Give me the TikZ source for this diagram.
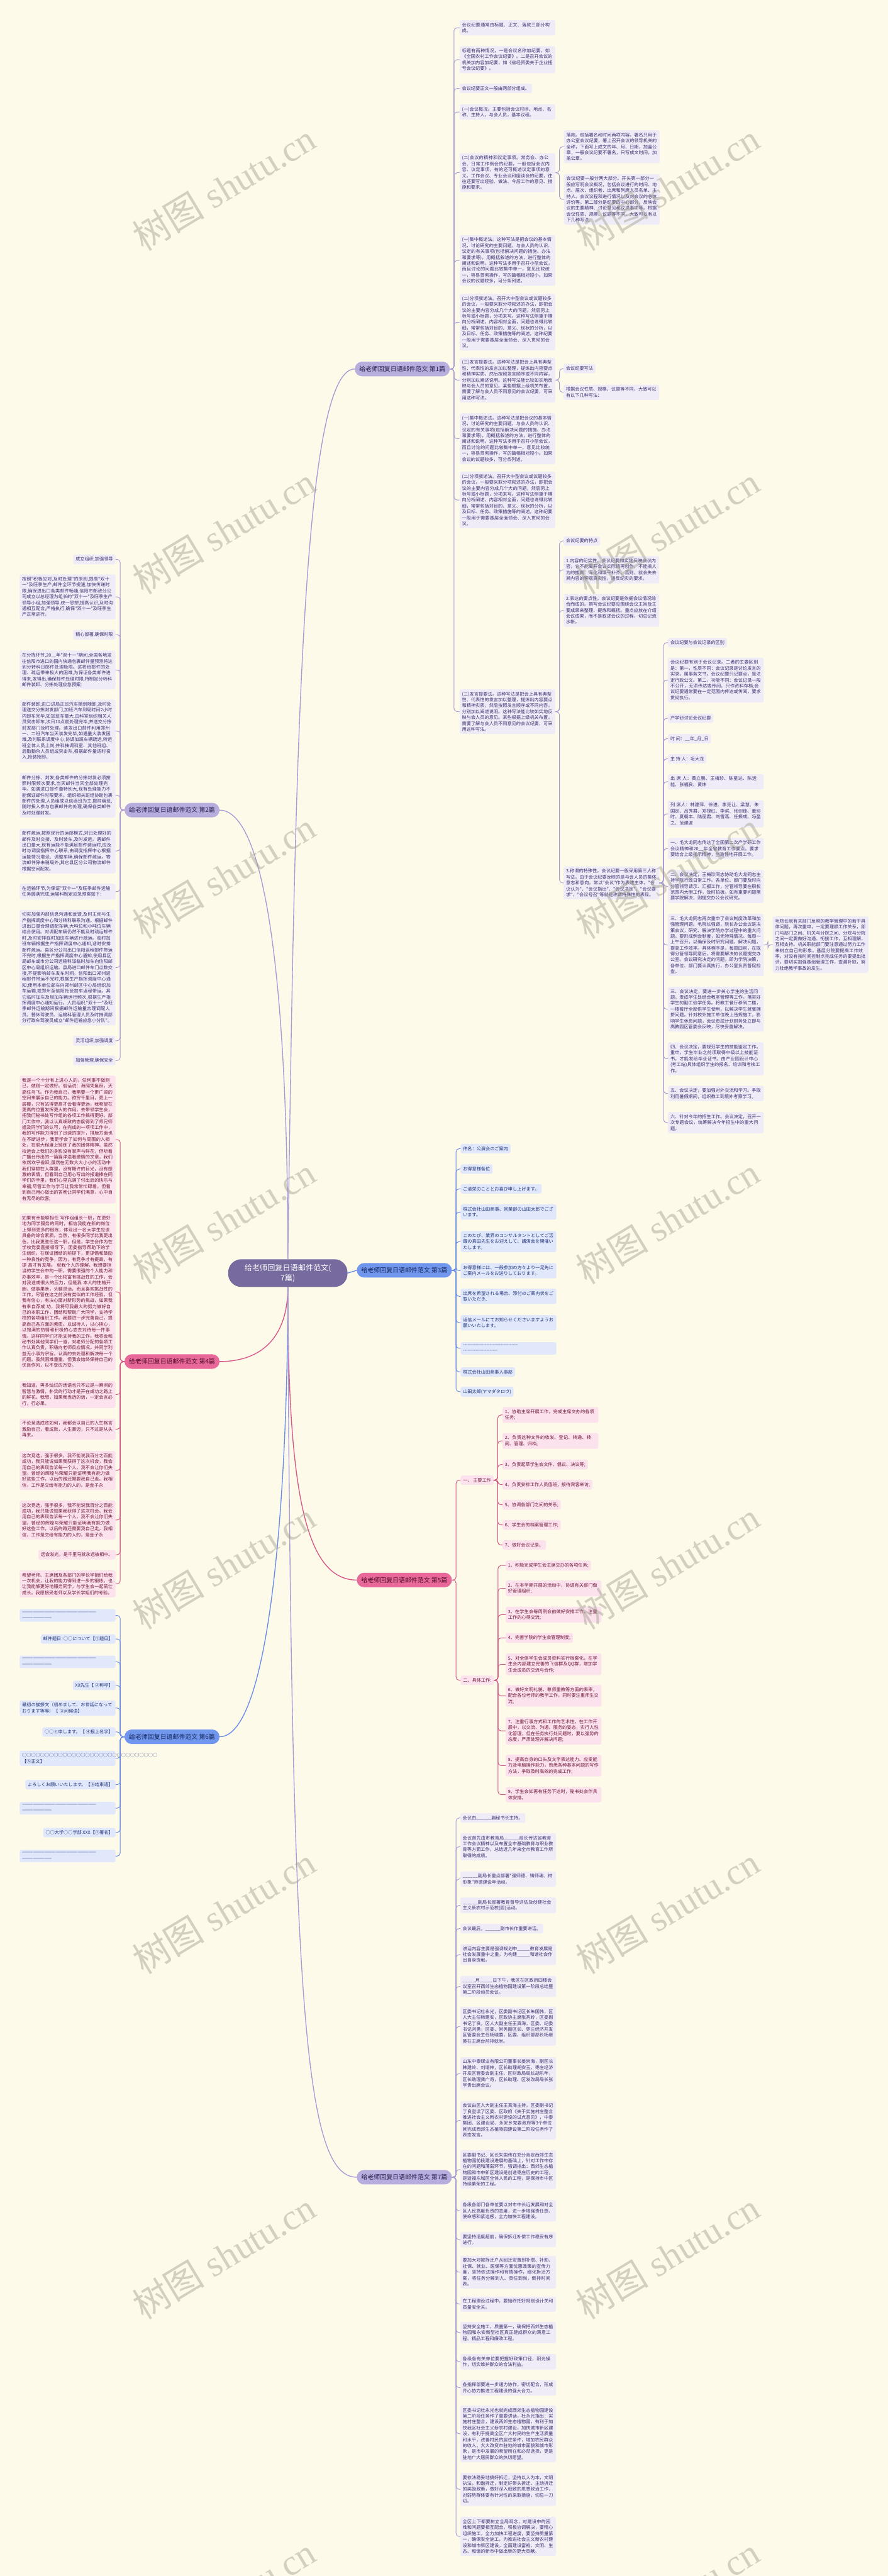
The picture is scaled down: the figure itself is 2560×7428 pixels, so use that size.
\documentclass[tikz,border=0pt]{standalone}
\usepackage{fontspec}
\newfontfamily\cjkf{Noto Sans CJK SC}
\newfontfamily\wmf{Liberation Serif}
\XeTeXlinebreaklocale "zh"
\XeTeXlinebreakskip=0pt plus 1pt
\setlength{\parindent}{0pt}

\definecolor{bgc}{RGB}{254,250,234}
\definecolor{rootc}{RGB}{119,106,158}
\definecolor{lavc}{RGB}{184,174,222}
\definecolor{lavdark}{RGB}{44,34,80}
\definecolor{lavline}{RGB}{168,156,212}
\definecolor{lavfill}{RGB}{239,236,248}
\definecolor{lavtext}{RGB}{60,46,110}
\definecolor{bluc}{RGB}{112,150,238}
\definecolor{bludark}{RGB}{22,40,92}
\definecolor{bluline}{RGB}{104,140,232}
\definecolor{blufill}{RGB}{225,232,251}
\definecolor{blutext}{RGB}{30,50,120}
\definecolor{pinc}{RGB}{232,104,154}
\definecolor{pindark}{RGB}{78,13,41}
\definecolor{pinline}{RGB}{214,88,136}
\definecolor{pinfill}{RGB}{252,226,236}
\definecolor{pintext}{RGB}{110,22,60}
\definecolor{wmc}{RGB}{160,157,143}

\tikzset{
  box/.style={rounded corners=5pt, inner xsep=7pt, inner ysep=7.5pt, font=\cjkf\fontsize{13}{17}\selectfont},
  wrap/.style={text width=262pt, align=left},
  lbox/.style={box, fill=lavfill, text=lavtext},
  bbox/.style={box, fill=blufill, text=blutext},
  pbox/.style={box, fill=pinfill, text=pintext},
  pian/.style={rounded corners=21pt, minimum width=274pt, minimum height=42pt, font=\cjkf\fontsize{18}{22}\selectfont},
  rootbox/.style={fill=rootc, text=white, rounded corners=38pt, minimum width=344pt, minimum height=80pt, align=center, font=\cjkf\fontsize{22}{29}\selectfont},
  lline/.style={draw=lavline, line width=1.8pt, rounded corners=9pt},
  bline/.style={draw=bluline, line width=1.8pt, rounded corners=9pt},
  pline/.style={draw=pinline, line width=1.8pt, rounded corners=9pt},
  wmark/.style={rotate=31, text=wmc, opacity=0.45, font=\wmf\fontsize{105}{105}\selectfont}
}

% kid connectors, right side and left side
\def\kidR[#1](#2)(#3){\draw[#1] (#2.east) -- ++(12,0) |- (#3.west);}
\def\kidL[#1](#2)(#3){\draw[#1] (#2.west) -- ++(-12,0) |- (#3.east);}

\newcommand\txtJizhong{(一)集中概述法。这种写法是把会议的基本情况，讨论研究的主要问题，与会人员的认识、议定的有关事项(包括解决问题的措施、办法和要求等)，用概括叙述的方法，进行整体的阐述和说明。这种写法多用于召开小型会议，而且讨论的问题比较集中单一，意见比较统一，容易贯彻操作，写的篇幅相对短小。如果会议的议题较多，可分条列述。}
\newcommand\txtFenxiang{(二)分项叙述法。召开大中型会议或议题较多的会议，一般要采取分项叙述的办法，即把会议的主要内容分成几个大的问题，然后另上标号或小标题，分项来写。这种写法侧重于横向分析阐述，内容相对全面，问题也说得比较细，常常包括对目的、意义、现状的分析，以及目标、任务、政策措施等的阐述。这种纪要一般用于需要基层全面领会、深入贯彻的会议。}
\newcommand\txtFayan{(三)发言提要法。这种写法是把会上具有典型性、代表性的发言加以整理，提炼出内容要点和精神实质，然后按照发言顺序或不同内容，分别加以阐述说明。这种写法能比较如实地反映与会人员的意见。某些根据上级机关布置，需要了解与会人员不同意见的会议纪要，可采用这种写法。}
\newcommand\txtJingxuan{这次竞选，强手很多，我不能说我百分之百能成功，我只能说如果我获得了这次机会，我会用自己的表现告诉每一个人，我不会让你们失望。曾经的辉煌与荣耀只能证明我有能力做好这些工作，以后的路还需要我自己走。我相信，工作是交给有能力的人的，是金子永}

\begin{document}
\begin{tikzpicture}[x=1pt,y=-1pt]
%%%%% background %%%%%
\fill[bgc] (0,0) rectangle (2560,7428);
\useasboundingbox (0,0) rectangle (2560,7428);

%%%%% root and the seven branches %%%%%
\node[rootbox] (root) at (830,3671) {给老师回复日语邮件范文(\\7篇)};

\node[pian, fill=lavc, text=lavdark] (p1) at (1160,1064) {给老师回复日语邮件范文 第1篇};
\node[pian, fill=lavc, text=lavdark] (p2) at (496,2336) {给老师回复日语邮件范文 第2篇};
\node[pian, fill=bluc, text=bludark] (p3) at (1166,3663) {给老师回复日语邮件范文 第3篇};
\node[pian, fill=pinc, text=pindark] (p4) at (496,3926) {给老师回复日语邮件范文 第4篇};
\node[pian, fill=pinc, text=pindark] (p5) at (1166,4556) {给老师回复日语邮件范文 第5篇};
\node[pian, fill=bluc, text=bludark] (p6) at (496,5008) {给老师回复日语邮件范文 第6篇};
\node[pian, fill=lavc, text=lavdark] (p7) at (1166,6278) {给老师回复日语邮件范文 第7篇};

\draw[lavline, line width=2.5pt] (root.north) .. controls (850,2200) and (870,1064) .. (p1.west);
\draw[lavline, line width=2.5pt] (p2.east) .. controls (760,2336) and (830,2800) .. (root.north);
\draw[bluline, line width=2.5pt] (root.east) -- (p3.west);
\draw[pinline, line width=2.5pt] (p4.east) .. controls (760,3926) and (830,3850) .. (root.south);
\draw[pinline, line width=2.5pt] (root.south) .. controls (830,4300) and (880,4556) .. (p5.west);
\draw[bluline, line width=2.5pt] (p6.east) .. controls (780,5008) and (830,4300) .. (root.south);
\draw[lavline, line width=2.5pt] (root.south) .. controls (840,5800) and (880,6278) .. (p7.west);

%%%%% 第1篇 %%%%%
\node[lbox, wrap, anchor=west] (p1a) at (1325,80) {会议纪要通常由标题、正文、落款三部分构成。};
\node[lbox, wrap, anchor=west] (p1b) at (1325,172) {标题有两种情况，一是会议名称加纪要，如《全国农村工作会议纪要》。二是召开会议的机关加内容加纪要，如《省经贸委关于企业扭亏会议纪要》。};
\node[lbox, anchor=west] (p1c) at (1325,255) {会议纪要正文一般由两部分组成。};
\node[lbox, wrap, anchor=west] (p1d) at (1325,323) {(一)会议概况。主要包括会议时间、地点、名称、主持人，与会人员，基本议程。};
\node[lbox, wrap, anchor=west] (p1e) at (1325,498) {(二)会议的精神和议定事项。常务会、办公会、日常工作例会的纪要，一般包括会议内容、议定事项，有的还可概述议定事项的意义。工作会议、专业会议和座谈会的纪要，往往还要写出经验、做法、今后工作的意见、措施和要求。};
\node[lbox, wrap, anchor=west] (p1f) at (1325,751) {\txtJizhong};
\node[lbox, wrap, anchor=west] (p1g) at (1325,929) {\txtFenxiang};
\node[lbox, wrap, anchor=west] (p1h) at (1325,1096) {\txtFayan};
\node[lbox, wrap, anchor=west] (p1i) at (1325,1265) {\txtJizhong};
\node[lbox, wrap, anchor=west] (p1j) at (1325,1442) {\txtFenxiang};
\node[lbox, wrap, anchor=west] (p1k) at (1325,2052) {\txtFayan};

\node[lbox, wrap, anchor=west] (p1e1) at (1626,423) {落款。包括署名和时间两项内容。署名只用于办公室会议纪要，署上召开会议的领导机关的全称，下面写上成文的年、月、日期，加盖公章，一般会议纪要不署名，只写成文时间，加盖公章。};
\node[lbox, wrap, anchor=west] (p1e2) at (1626,575) {会议纪要一般分两大部分。开头第一部分一般应写明会议概况，包括会议进行的时间、地点、届次、组织者、出席和列席人员名单、主持人、会议议程和进行情况以及对会议的总体评价等。第二部分是纪要的中心部分，反映会议的主要精神、讨论意见和议决事项等。根据会议性质、规模、议题等不同，大致可以有以下几种写法：};
\node[lbox, anchor=west] (p1h1) at (1625,1063) {会议纪要写法};
\node[lbox, wrap, anchor=west] (p1h2) at (1625,1131) {根据会议性质、规模、议题等不同，大致可以有以下几种写法：};

\node[lbox, anchor=west] (p1k1) at (1625,1560) {会议纪要的特点};
\node[lbox, wrap, anchor=west] (p1k2) at (1625,1643) {1.内容的纪实性。会议纪要如实地反映会议内容，它不能离开会议实际搞再创作，不能搞人为的拔高、深化和填平补齐。否则，就会失去其内容的客观真实性，违反纪实的要求。};
\node[lbox, wrap, anchor=west] (p1k3) at (1625,1760) {2.表达的要点性。会议纪要是依据会议情况综合而成的。撰写会议纪要应围绕会议主旨及主要成果来整理、提炼和概括。重点应放在介绍会议成果，而不是叙述会议的过程，切忌记流水帐。};
\node[lbox, wrap, anchor=west] (p1k4) at (1625,2546) {3.称谓的特殊性。会议纪要一般采用第三人称写法。由于会议纪要反映的是与会人员的集体意志和意向，常以"会议"作为表述主体，"会议认为"、"会议指出"、"会议决定"、"会议要求"、"会议号召"等就是称谓特殊性的表现。};

\node[lbox, anchor=west] (q1) at (1926,1853) {会议纪要与会议记录的区别};
\node[lbox, wrap, anchor=west] (q2) at (1926,1961) {会议纪要有别于会议记录。二者的主要区别是：第一，性质不同：会议记录是讨论发言的实录，属事务文书。会议纪要只记要点，是法定行政公文。第二，功能不同：会议记录一般不公开，无须传达或传阅，只作资料存档;会议纪要通常要在一定范围内传达或传阅，要求贯彻执行。};
\node[lbox, anchor=west] (q3) at (1926,2071) {产学研讨论会议纪要};
\node[lbox, anchor=west] (q4) at (1926,2130) {时 间：\_\_年\_月\_日};
\node[lbox, anchor=west] (q5) at (1926,2188) {主 持 人：毛大龙};
\node[lbox, wrap, anchor=west] (q6) at (1926,2254) {出 席 人：黄立鹏、王梅珍、陈星达、陈运能、张福良、黄炜};
\node[lbox, wrap, anchor=west] (q7) at (1926,2347) {列 席人：林建萍、徐进、李克让、梁慧、朱国定、吕秀君、郑禄红、李滨、张剑锋、董珍时、夏朝丰、陆丽君、刘雪燕、任振成、冯盈之、范建波};
\node[lbox, wrap, anchor=west] (q8) at (1926,2447) {一、毛大龙同志传达了全国第二次产学研工作会议精神和20\_\_年全省教育工作要点。要求要结合上级指示精神，创造性地开展工作。};
\node[lbox, wrap, anchor=west] (q9) at (1926,2556) {二、会议决定，王梅珍同志协助毛大龙同志主持学院行政日常工作。各单位、部门要及时向分管领导请示、汇报工作，分管领导要在职权范围内大胆工作，及时拍板。如有重要问题需要学院解决，则提交办公会议研究。};
\node[lbox, wrap, anchor=west] (q10) at (1926,2725) {三、毛大龙同志再次重申了会议制度改革和加强管理问题。毛院长强调，院长办公会议是决策会议，研究、解决学院办学过程中的重大问题。要形成例会制度，如无特殊情况，每周一上午召开，以确保及时研究问题、解决问题，提高工作效率。具体程序是，每周四前，在取得分管领导同意后，将需要解决的议题提交办公室。会议研究决定的问题，即为学院决策，各单位、部门要认真执行，办公室负责督促检查。};
\node[lbox, wrap, anchor=west] (q11) at (1926,2910) {三、会议决定，要进一步关心学生的生活问题。责成学生处结合教室管理等工作，落实好学生的勤工俭学任务。将教工餐厅移到二楼，一楼餐厅全部供学生使用，以解决学生就餐拥挤问题。针对校外施工单位晚上违规施工，影响学生休息问题，会议责成计划财务处立即与高教园区管委会反映，尽快妥善解决。};
\node[lbox, wrap, anchor=west] (q12) at (1926,3053) {四、会议决定，要规范学生的技能鉴定工作。重申，学生毕业之前须取得中级以上技能证书，才能发给毕业证书。由产业园设计中心(考工站)具体组织学生的报名、培训和考核工作。};
\node[lbox, wrap, anchor=west] (q13) at (1926,3153) {五、会议决定，要加强对外交流和学习。争取利用暑假期间，组织教工到境外考察学习。};
\node[lbox, wrap, anchor=west] (q14) at (1926,3237) {六、针对今年的招生工作。会议决定，召开一次专题会议，统筹解决今年招生中的重大问题。};
\node[lbox, wrap, anchor=west] (q10a) at (2228,2724) {毛院长就有关部门反映的教学管理中的若干具体问题，再次重申，一定要理顺工作关系，部门与部门之间、机关与分院之间、分院与分院之间一定要做好沟通、衔接工作，互相理解，互相支持。机关职能部门要注意通过努力工作来树立自己的形象。基层分院要提高工作效率，对没有按时间控制点完成任务的要提出批评。要切实加强基础管理工作，查漏补缺，努力杜绝教学事故的发生。};

\kidR[lline](p1)(p1a)
\kidR[lline](p1)(p1b)
\kidR[lline](p1)(p1c)
\kidR[lline](p1)(p1d)
\kidR[lline](p1)(p1e)
\kidR[lline](p1)(p1f)
\kidR[lline](p1)(p1g)
\kidR[lline](p1)(p1h)
\kidR[lline](p1)(p1i)
\kidR[lline](p1)(p1j)
\kidR[lline](p1)(p1k)
\kidR[lline](p1e)(p1e1)
\kidR[lline](p1e)(p1e2)
\kidR[lline](p1h)(p1h1)
\kidR[lline](p1h)(p1h2)
\kidR[lline](p1k)(p1k1)
\kidR[lline](p1k)(p1k2)
\kidR[lline](p1k)(p1k3)
\kidR[lline](p1k)(p1k4)
\kidR[lline](p1k4)(q1)
\kidR[lline](p1k4)(q2)
\kidR[lline](p1k4)(q3)
\kidR[lline](p1k4)(q4)
\kidR[lline](p1k4)(q5)
\kidR[lline](p1k4)(q6)
\kidR[lline](p1k4)(q7)
\kidR[lline](p1k4)(q8)
\kidR[lline](p1k4)(q9)
\kidR[lline](p1k4)(q10)
\kidR[lline](p1k4)(q11)
\kidR[lline](p1k4)(q12)
\kidR[lline](p1k4)(q13)
\kidR[lline](p1k4)(q14)
\kidR[lline](q10)(q10a)

%%%%% 第2篇 %%%%%
\node[lbox, anchor=east] (p2a) at (333,1613) {成立组织,加强领导};
\node[lbox, wrap, anchor=east] (p2b) at (333,1721) {按照"积极应对,及时处理"的原则,提高"双十一"及旺季生产,邮件全环节提速,加快传递时限,确保进出口各类邮件畅通,信阳市邮政分公司成立以总经理为组长的"双十一"及旺季生产领导小组,加强领导,统一思想,提高认识,及时沟通相互配合,严格执行,确保"双十一"及旺季生产正常进行。};
\node[lbox, anchor=east] (p2c) at (333,1830) {精心部署,确保时限};
\node[lbox, wrap, anchor=east] (p2d) at (333,1932) {在分拣环节,20\_\_年"双十一"期间,全国各地发往信阳市进口的国内快递包裹邮件量预测将达到分转科日邮件处理极限。这将给邮件的处理、疏运带来极大的困难,为保证各类邮件进得来,发得出,确保邮件处理时限,特制定分转科邮件装卸、分拣处理应急预案:};
\node[lbox, wrap, anchor=east] (p2e) at (333,2108) {邮件装卸,进口进局正班汽车随到随卸,及时处理送交分拣封发部门,加班汽车到局时间2小时内卸车完毕,如加班车量大,由科室组织相关人员突击卸车,次日10点前处理完毕,并送交分拣封发部门及时处理。装发出口邮件利用郑州一、二班汽车当天装发完毕,如遇量大装发困难,及时联系调度中心,协调加班车辆疏运,转运班全体人员上岗,并科抽调科室、其他班组、后勤勤杂人员组成突击队,根据邮件量适时投入,抢装抢卸。};
\node[lbox, wrap, anchor=east] (p2f) at (333,2293) {邮件分拣、封发,各类邮件的分拣封发必须按照时限频次要求,当天邮件当天全部处理完毕。如遇进口邮件量特别大,现有处理能力不能保证邮件时限要求。组织相关班组协助包裹邮件的处理,人员组成以信函班为主,提前编班,随时投入参与包裹邮件的处理,确保各类邮件及时处理封发。};
\node[lbox, wrap, anchor=east] (p2g) at (333,2454) {邮件疏运,按照现行的运邮模式,对已处理好的邮件及时交接、及时装车,及时发运。遇邮件出口量大,现有运能不能满足邮件装运时,应及时与调度指挥中心联系,由调度指挥中心根据运能情况增派、调整车辆,确保邮件疏运。物流邮件除未稍局外,其它县区分公司物流邮件根据空间配发。};
\node[lbox, wrap, anchor=east] (p2h) at (333,2571) {在运输环节,为保证"双十一"及旺季邮件运输任务圆满完成,运输科制定应急预案如下:};
\node[lbox, wrap, anchor=east] (p2i) at (333,2790) {切实加强内部信息沟通和反馈,及时主动与生产指挥调度中心和分转科联系沟通。根据邮件进出口量合理调配车辆,大吨位和小吨位车辆结合使用。对调配车辆仍然不能及时疏运邮件时,及时安排临时加班车辆进行疏运。临时加班车辆根据生产指挥调度中心通知,适时安排邮件疏运。县区分公司出口信阳返程邮件带运不完时,根据生产指挥调度中心通知,使用县区局邮车或市分公司运输科派临时加车向信阳邮区中心局组织运输。县局进口邮件车门点数交接,不提影响邮车发车时间。信阳出口郑州返程邮件带运不完时,根据生产指挥调度中心通知,使用本单位邮车向郑州邮区中心局组织加车运输,或郑州至信阳社会加车返程带运。其它临时加车及增加车辆运行频次,根据生产指挥调度中心通知运行。人员组织,"双十一"及旺季邮件运输期间根据邮件运输量合理调配人员。替休驾驶员、运输科管理人员及时抽调部分行政车驾驶员成立"邮件运输应急小分队"。};
\node[lbox, anchor=east] (p2j) at (333,3001) {灵活组织,加强调度};
\node[lbox, anchor=east] (p2k) at (333,3058) {加强管理,确保安全};

\kidL[lline](p2)(p2a)
\kidL[lline](p2)(p2b)
\kidL[lline](p2)(p2c)
\kidL[lline](p2)(p2d)
\kidL[lline](p2)(p2e)
\kidL[lline](p2)(p2f)
\kidL[lline](p2)(p2g)
\kidL[lline](p2)(p2h)
\kidL[lline](p2)(p2i)
\kidL[lline](p2)(p2j)
\kidL[lline](p2)(p2k)

%%%%% 第3篇 %%%%%
\node[bbox, anchor=west] (p3a) at (1328,3312) {件名：公演会のご案内};
\node[bbox, anchor=west] (p3b) at (1328,3371) {お得意様各位};
\node[bbox, anchor=west] (p3c) at (1328,3428) {ご清栄のこととお喜び申し上げます。};
\node[bbox, wrap, anchor=west] (p3d) at (1328,3495) {株式会社山田商事、営業部の山田太郎でございます。};
\node[bbox, wrap, anchor=west] (p3e) at (1328,3580) {このたび、業界のコンサルタントとしてご活躍の真田先生をお迎えして、講演会を開催いたします。};
\node[bbox, wrap, anchor=west] (p3f) at (1328,3664) {お得意様には、一般参加の方々より一足先にご案内メールをお送りしております。};
\node[bbox, wrap, anchor=west] (p3g) at (1328,3738) {出席を希望される場合、添付のご案内状をご覧いただき、};
\node[bbox, wrap, anchor=west] (p3h) at (1328,3814) {返信メールにてお知らせくださいますようお願いいたします。};
\node[bbox, wrap, anchor=west] (p3i) at (1328,3888) {-----------------------------------\\----------------------};
\node[bbox, anchor=west] (p3j) at (1328,3956) {株式会社山田商事人事部};
\node[bbox, anchor=west] (p3k) at (1328,4013) {山田太郎(ヤマダタロウ)};

\kidR[bline](p3)(p3a)
\kidR[bline](p3)(p3b)
\kidR[bline](p3)(p3c)
\kidR[bline](p3)(p3d)
\kidR[bline](p3)(p3e)
\kidR[bline](p3)(p3f)
\kidR[bline](p3)(p3g)
\kidR[bline](p3)(p3h)
\kidR[bline](p3)(p3i)
\kidR[bline](p3)(p3j)
\kidR[bline](p3)(p3k)

%%%%% 第4篇 %%%%%
\node[pbox, wrap, anchor=east] (p4a) at (333,3286) {我是一个十分有上进心人的，任何事不做则已，做则一定做好。俗话说：海阔凭鱼跃，天高任鸟飞。作为我自己，我需要一个更广阔的空间来展示自己的能力。欲穷千里目，更上一层楼，只有站得更高才会看得更远，我希望在更高的位置发挥更大的作用，去带领学生会，把我们秘书处写作组的各项工作搞得更好。部门工作中，我以认真细致的态度得到了师兄师姐及同学们的认可，在完成的一项项工作中，我的写作能力得到了迅速的提升，排版方面也在不断进步，我更学会了如何与周围的人相处，在很大程度上锻炼了我的团体精神。虽然校运会上我们的身影没有掌声与鲜花，但听着广播台传出的一篇篇洋溢着激情的文章，我们依然欢乎雀跃;虽然在无数大大小小的活动中我们穿梭在人群里，没有期许的目光，没有感激的表情，但看到自己用心写出的报道捧在同学们的手里，我们心里充满了付出后的快乐与幸福;尽管工作与学习让我常常忙碌着，但看到自己用心做出的答卷让同学们满意，心中自有无尽的欣喜;};
\node[pbox, wrap, anchor=east] (p4b) at (333,3725) {如果有幸能够担任 写作组组长一职，在更好地为同学服务的同时，相信我能在新的岗位上得到更多的锻炼，体现出一名大学生应该具备的综合素质。当然，有很多同学比我更出色，比我更胜任这一职，但是，学生会作为在学校党委直接领导下，团委指导帮助下的学生组织，在保证团结的前提下，更提倡和鼓励一种良性的竞争，因为，有竞争才有提高，有提 高才有发展。 就我个人的理解，我想要担当的学生会中的一职，需要很强的个人能力和办事效率，是一个比较富有挑战性的工作，会对我造成很大的压力，但是我 本人的性格开朗，做事果断，头脑灵活，而且喜欢挑战性的工作，尽管在这之前没有类似的工作经验，但我有信心，有决心面对新形势的挑战，如果我有幸自荐成 功，我将尽我最大的努力做好自己的本职工作，团结和帮助广大同学，支持学校的各项组织工作。我要进一步完善自己，提高自己各方面的素质。以诚待人，以心换心，以饱满的热情和积极的心态去对待每一件事情。这样同学们才能支持我的工作。我将会和秘书处其他同学们一道，对老师分配的各项工作认真负责，积极向老师反应情况。并同学利益无小事为宗旨。认真的去处理和解决每一个问题。虽然困难重重，但我会始终保持自己的优良作风，以不变应万变。};
\node[pbox, wrap, anchor=east] (p4c) at (333,4021) {我知道，再多灿烂的话语也只不过是一瞬间的智慧与激情，朴实的行动才是开在成功之路上的鲜花。我想，如果我当选的话，一定会言必行，行必果。};
\node[pbox, wrap, anchor=east] (p4d) at (333,4121) {不论竞选成败如何，我都会以自己的人生格言激励自己，看成败，人生豪迈，只不过是从头再来。};
\node[pbox, wrap, anchor=east] (p4e) at (333,4240) {\txtJingxuan};
\node[pbox, wrap, anchor=east] (p4f) at (333,4383) {\txtJingxuan};
\node[pbox, anchor=east] (p4g) at (333,4483) {远会发光，是千里马就永远被相中。};
\node[pbox, wrap, anchor=east] (p4h) at (333,4567) {希望老师、主席团及各部门的学长学姐们给我一次机会，让我的能力得到进一步的锻炼，也让我能够更好地服务同学，与学生会一起茁壮成长。我愿接受老师以及学长学姐们的考验。};

\kidL[pline](p4)(p4a)
\kidL[pline](p4)(p4b)
\kidL[pline](p4)(p4c)
\kidL[pline](p4)(p4d)
\kidL[pline](p4)(p4e)
\kidL[pline](p4)(p4f)
\kidL[pline](p4)(p4g)
\kidL[pline](p4)(p4h)

%%%%% 第5篇 %%%%%
\node[pbox, anchor=west] (p5a) at (1328,4268) {一、 主要工作};
\node[pbox, anchor=west] (p5b) at (1328,4845) {二、具体工作:};

\node[pbox, wrap, anchor=west] (p5a1) at (1449,4080) {1、协助主席开展工作，完成主席交办的各项任务;};
\node[pbox, wrap, anchor=west] (p5a2) at (1449,4155) {2、负责这种文件的收发、登记、转递、转阅、管理、归档;};
\node[pbox, anchor=west] (p5a3) at (1449,4223) {3、负责起草学生会文件、倡议、决议等;};
\node[pbox, anchor=west] (p5a4) at (1449,4281) {4、负责安排工作人员值班，接待宾客来访;};
\node[pbox, anchor=west] (p5a5) at (1449,4339) {5、协调各部门之间的关系;};
\node[pbox, anchor=west] (p5a6) at (1449,4397) {6、学生会的档案管理工作;};
\node[pbox, anchor=west] (p5a7) at (1449,4455) {7、做好会议记录。};

\node[pbox, anchor=west] (p5b1) at (1458,4514) {1、积极完成学生会主席交办的各项任务;};
\node[pbox, wrap, anchor=west] (p5b2) at (1458,4580) {2、在本学期开展的活动中，协调有关部门做好管理组织;};
\node[pbox, wrap, anchor=west] (p5b3) at (1458,4656) {3、在学生会每周例会前做好安排工作，注重工作的心得交流;};
\node[pbox, anchor=west] (p5b4) at (1458,4723) {4、完善学院的学生会管理制度;};
\node[pbox, wrap, anchor=west] (p5b5) at (1458,4799) {5、对全体学生会成员资料实行档案化，在学生会内部建立完善的飞信群及QQ群，增加学生会成员的交流与合作;};
\node[pbox, wrap, anchor=west] (p5b6) at (1458,4890) {6、做好文明礼貌，尊师重教等方面的表率，配合各位老师的教学工作，同时要注重师生交流;};
\node[pbox, wrap, anchor=west] (p5b7) at (1458,4991) {7、注重行事方式和工作的艺术性。在工作开展中，以交流、沟通、服务的姿态，实行人性化管理，但在任务执行处问题时，要以强势的态度，严肃处理并解决问题;};
\node[pbox, wrap, anchor=west] (p5b8) at (1458,5091) {8、提高自身的口头及文字表达能力、应变能力及电脑操作能力，熟悉各种基本问题的写作方法，争取及时高效的完成工作;};
\node[pbox, wrap, anchor=west] (p5b9) at (1458,5175) {9、学生会如再有任务下达时，秘书处会作具体安排。};

\kidR[pline](p5)(p5a)
\kidR[pline](p5)(p5b)
\kidR[pline](p5a)(p5a1)
\kidR[pline](p5a)(p5a2)
\kidR[pline](p5a)(p5a3)
\kidR[pline](p5a)(p5a4)
\kidR[pline](p5a)(p5a5)
\kidR[pline](p5a)(p5a6)
\kidR[pline](p5a)(p5a7)
\kidR[pline](p5b)(p5b1)
\kidR[pline](p5b)(p5b2)
\kidR[pline](p5b)(p5b3)
\kidR[pline](p5b)(p5b4)
\kidR[pline](p5b)(p5b5)
\kidR[pline](p5b)(p5b6)
\kidR[pline](p5b)(p5b7)
\kidR[pline](p5b)(p5b8)
\kidR[pline](p5b)(p5b9)

%%%%% 第6篇 %%%%%
\node[bbox, wrap, anchor=east] (p6a) at (333,4658) {————————————————————\\————————};
\node[bbox, anchor=east] (p6b) at (333,4726) {邮件题目 :○○について【①题目】};
\node[bbox, wrap, anchor=east] (p6c) at (333,4792) {————————————————————\\————————};
\node[bbox, anchor=east] (p6d) at (333,4860) {XX先生【 ②称呼】};
\node[bbox, wrap, anchor=east] (p6e) at (333,4925) {最初の挨拶文（初めまして、お世話になっております等等）【 ③问候语】};
\node[bbox, anchor=east] (p6f) at (333,4994) {○○と申します。【 ④报上名字】};
\node[bbox, wrap, anchor=east] (p6g) at (333,5070) {○○○○○○○○○○○○○○○○○○○○○○○○○○○○○○【⑤正文】};
\node[bbox, anchor=east] (p6h) at (333,5146) {よろしくお願いいたします。【⑥结束语】};
\node[bbox, wrap, anchor=east] (p6i) at (333,5214) {————————————————————\\————————};
\node[bbox, anchor=east] (p6j) at (333,5284) {○○大学○○学部 XXX【⑦署名】};
\node[bbox, wrap, anchor=east] (p6k) at (333,5352) {————————————————————\\————————};

\kidL[bline](p6)(p6a)
\kidL[bline](p6)(p6b)
\kidL[bline](p6)(p6c)
\kidL[bline](p6)(p6d)
\kidL[bline](p6)(p6e)
\kidL[bline](p6)(p6f)
\kidL[bline](p6)(p6g)
\kidL[bline](p6)(p6h)
\kidL[bline](p6)(p6i)
\kidL[bline](p6)(p6j)
\kidL[bline](p6)(p6k)

%%%%% 第7篇 %%%%%
\node[lbox, anchor=west] (p7a) at (1327,5242) {会议由\_\_\_\_\_\_副秘书长主持。};
\node[lbox, wrap, anchor=west] (p7b) at (1327,5325) {会议首先由市教育局\_\_\_\_\_\_局长传达省教育工作会议精神以及布置全市基础教育与职业教育等方面工作，总结近几年来全市教育工作所取得的成绩。};
\node[lbox, wrap, anchor=west] (p7c) at (1327,5418) {\_\_\_\_\_\_副局长重点部署"强师德、铸师魂、树形象"师德建设年活动。};
\node[lbox, wrap, anchor=west] (p7d) at (1327,5494) {\_\_\_\_\_\_副局长部署教育督导评估及创建社会主义新农村示范校(园)活动。};
\node[lbox, anchor=west] (p7e) at (1327,5561) {会议最后，\_\_\_\_\_\_副市长作重要讲话。};
\node[lbox, wrap, anchor=west] (p7f) at (1327,5636) {讲话内容主要是强调规划中\_\_\_\_\_教育发展是社会发展重中之重，为构建\_\_\_\_\_和谐社会作出自身贡献。};
\node[lbox, wrap, anchor=west] (p7g) at (1327,5728) {\_\_\_\_\_月\_\_\_\_\_日下午，我区在区政府四楼会议室召开西郊生态植物园建设第一阶段总结暨第二阶段动员会议。};
\node[lbox, wrap, anchor=west] (p7h) at (1327,5843) {区委书记杜永光，区委副书记区长朱国伟，区人大主任韩建安，区政协主席张秀岭，区委副书记丁良，区人大副主任王真海，区委、纪委书记刘勇，区委、常务副区长、枣庄经济开发区管委会主任杨晓婺，区委、组织部部长杨继英在主席台前排就坐。};
\node[lbox, wrap, anchor=west] (p7i) at (1327,5979) {山东中泰煤业有限公司董事长姜崇海，副区长韩建岭、刘堪林，区长助理胡安玉，枣庄经济开发区管委会副主任、区财政局局长胡乐年，区长助理龚广奇，区长助理、区发改局局长张学贵出席会议。};
\node[lbox, wrap, anchor=west] (p7j) at (1327,6114) {会议由区人大副主任王真海主持，区委副书记丁良宣读了区委、区政府《关于实施村庄整合推进社会主义新农村建设的试点意见》，中泰集团、区建设局、永安乡党委政府等3个单位就完成西郊生态植物园建设第二阶段任务作了表态发言。};
\node[lbox, wrap, anchor=west] (p7k) at (1327,6256) {区委副书记、区长朱国伟在充分肯定西郊生态植物园前段建设进展的基础上，针对工作中存在的问题和薄弱环节，强调指出：西郊生态植物园和市中新区建设是创造枣庄历史的工程，是造福东城区全体人民的工程，是保持市中区持续繁荣的工程。};
\node[lbox, wrap, anchor=west] (p7l) at (1327,6375) {各级各部门各单位要以对市中长远发展和对全区人民高度负责的态度，进一步增强责任感、使命感和紧迫感，全力加快工程建设。};
\node[lbox, wrap, anchor=west] (p7m) at (1327,6458) {要坚持适度超前，确保拆迁补偿工作稳妥有序进行。};
\node[lbox, wrap, anchor=west] (p7n) at (1327,6552) {要加大对被拆迁户从回迁安置到补偿、补助、社保、就业、医保等方面优惠政策的宣传力度，坚持依法操作和有情操作，细化拆迁方案，将任务分解到人、责任到岗，倒排时间表。};
\node[lbox, wrap, anchor=west] (p7o) at (1327,6644) {在工程建设过程中，要始终把好规划设计关和质量安全关。};
\node[lbox, wrap, anchor=west] (p7p) at (1327,6726) {坚持安全施工，质量第一，确保把西郊生态植物园和永安新型社区真正建成群众的满意工程、精品工程和廉政工程。};
\node[lbox, wrap, anchor=west] (p7q) at (1327,6810) {各级各有关单位要把握好政策口径，阳光操作，切实维护群众的合法利益。};
\node[lbox, wrap, anchor=west] (p7r) at (1327,6885) {各指挥部要进一步通力协作，密切配合，形成齐心协力推进工程建设的强大合力。};
\node[lbox, wrap, anchor=west] (p7s) at (1327,7018) {区委书记杜永光也就完成西郊生态植物园建设第二阶段任务作了重要讲话，杜永光指出：实施村庄整合，建设西郊生态植物园，有利于加快我区社会主义新农村建设，加快城市新区建设，有利于提高全区广大村民的生产生活质量和水平，改善村民的居住条件，增加农民群众的收入，大大改变市驻地的城市面貌和城市形象，是市中发展的希望所在和必然选择，更是驻地广大居民群众的热切愿望。};
\node[lbox, wrap, anchor=west] (p7t) at (1327,7178) {要依法稳妥地搞好拆迁，坚持以人为本，文明执法，和谐拆迁，制定好带头拆迁、主动拆迁的奖励政策，做好深入细致的思想政治工作，对弱势群体要有针对性的采取措施，切忌一刀切。};
\node[lbox, wrap, anchor=west] (p7u) at (1327,7314) {全区上下都要树立全局观念，对建设中的困难和问题要相互配合，积极协调解决，要精心组织施工，全力加快工程进度，要坚持质量第一，确保安全施工，为推进社会主义新农村建设和城市新区建设，全面建设富裕、文明、生态、和谐的新市中做出新的更大贡献。};

\kidR[lline](p7)(p7a)
\kidR[lline](p7)(p7b)
\kidR[lline](p7)(p7c)
\kidR[lline](p7)(p7d)
\kidR[lline](p7)(p7e)
\kidR[lline](p7)(p7f)
\kidR[lline](p7)(p7g)
\kidR[lline](p7)(p7h)
\kidR[lline](p7)(p7i)
\kidR[lline](p7)(p7j)
\kidR[lline](p7)(p7k)
\kidR[lline](p7)(p7l)
\kidR[lline](p7)(p7m)
\kidR[lline](p7)(p7n)
\kidR[lline](p7)(p7o)
\kidR[lline](p7)(p7p)
\kidR[lline](p7)(p7q)
\kidR[lline](p7)(p7r)
\kidR[lline](p7)(p7s)
\kidR[lline](p7)(p7t)
\kidR[lline](p7)(p7u)

%%%%% watermark %%%%%
\foreach \y in {540,1530,2525,3520,4515,5510,6505,7500} {
  \node[wmark] at (646,\y) {{\cjkf 树图} shutu.cn};
  \node[wmark] at (1925,\y) {{\cjkf 树图} shutu.cn};
}
\end{tikzpicture}
\end{document}
